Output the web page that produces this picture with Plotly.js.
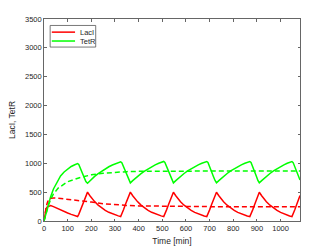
<!DOCTYPE html>
<html>
<head>
<meta charset="utf-8">
<script src="https://cdn.plot.ly/plotly-3.0.1.min.js"></script>
<style>html,body{margin:0;padding:0;background:#fff;}#chart{width:332px;height:249px;}</style>
</head>
<body>
<div id="chart"></div>
<script>
// ---- data ----
var seriesNames = ["LacI", "TetR"];
var xTitle = "Time [min]";
var yTitle = "LacI, TetR";
var xTicks = [0, 100, 200, 300, 400, 500, 600, 700, 800, 900, 1000];
var yTicks = [0, 500, 1000, 1500, 2000, 2500, 3000, 3500];

var tSolid = [
  0, 3, 6, 9, 13, 20, 28, 40, 55, 70, 85, 100, 115, 130, 142,
  147, 154, 162, 170, 177, 184,
  194, 204, 214, 229, 244, 259, 274, 289, 304, 314, 324,
  329, 336, 344, 352, 359, 365,
  375, 385, 395, 410, 425, 440, 455, 470, 485, 495, 506,
  511, 518, 526, 534, 541, 547,
  557, 567, 577, 592, 607, 622, 637, 652, 667, 677, 688,
  693, 700, 708, 716, 723, 729,
  739, 749, 759, 774, 789, 804, 819, 834, 849, 859, 870,
  875, 882, 890, 898, 904, 910,
  920, 930, 940, 955, 970, 985, 1000, 1014, 1028, 1038, 1048,
  1053, 1060, 1068, 1076, 1082
];
var lacI = [
  0, 90, 165, 215, 240, 258, 268, 250, 220, 190, 163, 138, 115, 95, 78,
  115, 190, 280, 370, 445, 500,
  438, 383, 336, 275, 225, 185, 151, 124, 102, 89, 78,
  120, 195, 285, 375, 450, 500,
  438, 383, 336, 275, 225, 185, 151, 124, 102, 89, 76,
  118, 193, 283, 373, 448, 498,
  437, 382, 335, 274, 224, 184, 150, 123, 101, 88, 76,
  118, 193, 283, 373, 448, 498,
  437, 382, 335, 274, 224, 184, 150, 123, 101, 88, 76,
  118, 193, 283, 373, 448, 498,
  437, 382, 335, 274, 224, 184, 150, 123, 101, 88, 76,
  120, 195, 285, 375, 440
];
var tetR = [
  0, 45, 95, 150, 215, 320, 420, 555, 675, 780, 850, 905, 945, 975, 995,
  980, 915, 830, 745, 685, 655,
  700, 738, 773, 822, 866, 905, 940, 970, 997, 1012, 1025,
  1010, 945, 860, 770, 700, 660,
  700, 738, 773, 822, 866, 905, 940, 972, 1000, 1016, 1032,
  1016, 950, 862, 772, 702, 660,
  700, 738, 773, 823, 867, 906, 941, 972, 1000, 1016, 1031,
  1015, 950, 862, 772, 702, 660,
  700, 738, 773, 823, 867, 906, 941, 972, 1000, 1016, 1031,
  1015, 950, 862, 772, 702, 660,
  700, 738, 773, 823, 867, 906, 941, 972, 1000, 1016, 1030,
  1012, 945, 860, 770, 710
];

var tDashed = [0, 5, 10, 15, 20, 30, 40, 60, 100, 150, 200, 250, 300, 350, 400, 500, 600, 700, 800, 900, 1082];
var lacIMean = [0, 150, 260, 330, 370, 395, 400, 395, 378, 352, 328, 300, 282, 270, 262, 255, 251, 249, 248, 247, 247];
var tetRMean = [0, 80, 150, 225, 290, 390, 470, 570, 680, 750, 800, 828, 845, 855, 861, 865, 867, 867, 868, 868, 868];

var colors = ["#ff0000", "#00ff00"];

var traces = [
  {x: tSolid, y: lacI, mode: "lines", name: seriesNames[0], line: {color: colors[0], width: 1.5}},
  {x: tSolid, y: tetR, mode: "lines", name: seriesNames[1], line: {color: colors[1], width: 1.5}},
  {x: tDashed, y: lacIMean, mode: "lines", showlegend: false, line: {color: colors[0], width: 1.5, dash: "5px,3px"}},
  {x: tDashed, y: tetRMean, mode: "lines", showlegend: false, line: {color: colors[1], width: 1.5, dash: "5px,3px"}}
];

var axisColor = "#404040";
var fontFam = "Liberation Sans, Arial, sans-serif";

// legend drawn as layout decoration (paper coords)
var legBox = {x0: 0.024, x1: 0.202, y0: 0.861, y1: 0.968};
var legRows = [0.935, 0.891];
var shapes = [{type: "rect", xref: "paper", yref: "paper", x0: legBox.x0, x1: legBox.x1, y0: legBox.y0, y1: legBox.y1,
  line: {color: "#555555", width: 0.8}, fillcolor: "#ffffff", layer: "above"}];
var annotations = [];
for (var i = 0; i < seriesNames.length; i++) {
  shapes.push({type: "line", xref: "paper", yref: "paper", x0: 0.0304, x1: 0.1213, y0: legRows[i], y1: legRows[i],
    line: {color: colors[i], width: 1.5}, layer: "above"});
  annotations.push({xref: "paper", yref: "paper", x: 0.132, y: legRows[i], xanchor: "left", yanchor: "middle",
    text: seriesNames[i], showarrow: false, font: {family: fontFam, size: 7.5, color: "#262626"}});
}

var layout = {
  width: 332, height: 249,
  margin: {l: 44, r: 32, t: 18.5, b: 27.5},
  paper_bgcolor: "#ffffff", plot_bgcolor: "#ffffff",
  showlegend: false,
  font: {family: fontFam, size: 7.5, color: "#262626"},
  xaxis: {
    range: [0, 1082], tickvals: xTicks, ticktext: xTicks.map(String),
    ticks: "inside", ticklen: 2.5, tickcolor: axisColor, tickwidth: 0.8,
    showline: true, linecolor: axisColor, linewidth: 0.8, mirror: "ticks",
    showgrid: false, zeroline: false,
    tickfont: {family: fontFam, size: 7.5, color: "#262626"},
    title: {text: xTitle, font: {family: fontFam, size: 8.5, color: "#262626"}, standoff: 6},
    automargin: false
  },
  yaxis: {
    range: [0, 3500], tickvals: yTicks, ticktext: yTicks.map(String),
    ticks: "inside", ticklen: 2.5, tickcolor: axisColor, tickwidth: 0.8,
    showline: true, linecolor: axisColor, linewidth: 0.8, mirror: "ticks",
    showgrid: false, zeroline: false,
    tickfont: {family: fontFam, size: 7.5, color: "#262626"},
    title: {text: yTitle, font: {family: fontFam, size: 8.5, color: "#262626"}, standoff: 7},
    automargin: false
  },
  shapes: shapes,
  annotations: annotations
};

Plotly.newPlot("chart", traces, layout, {displayModeBar: false, staticPlot: true});
</script>
</body>
</html>
